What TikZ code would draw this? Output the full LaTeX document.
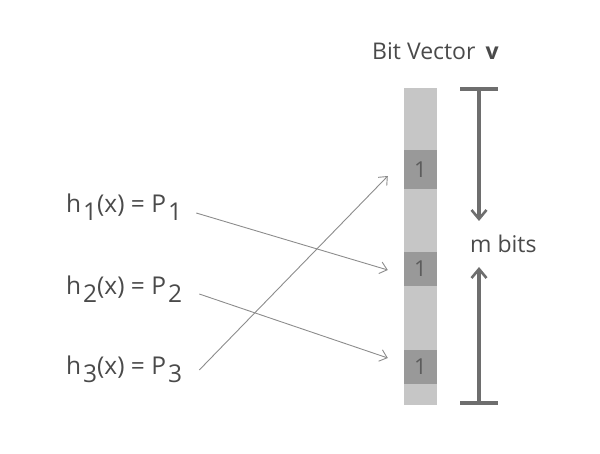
\documentclass[tikz,border=0pt]{standalone}
\usepackage{fontspec}
\setmainfont{Open Sans}
\usepackage{tikz}
\usetikzlibrary{positioning,arrows.meta,calc}
\definecolor{bvtext}{HTML}{4A4A4A}
\definecolor{bvline}{HTML}{8C8C8C}
\definecolor{bvlight}{HTML}{C6C6C6}
\definecolor{bvdark}{HTML}{999999}
\definecolor{bvdim}{HTML}{6E6E6E}
\newcommand{\lowsub}[1]{\hspace{2pt}\raisebox{-8pt}{#1}}
\tikzset{
    lbl/.style={inner sep=0pt,text=bvtext,font=\fontsize{23}{28}\selectfont},
    hashlbl/.style={lbl,font=\fontsize{24.5}{29}\selectfont},
    vecbar/.style={fill=bvlight,minimum width=33pt,minimum height=317pt,inner sep=0pt},
    cellone/.style={fill=bvdark,minimum width=33pt,inner sep=0pt,text=bvtext!90,font=\fontsize{22}{26}\selectfont},
    hasharrow/.style={draw=bvline,line width=0.9pt,-{Straight Barb[length=7pt,width=12pt,line width=0.9pt]}},
    dimline/.style={draw=bvdim,line width=3.3pt},
    dimarrow/.style={dimline,-{Straight Barb[length=9pt,width=15pt,line width=2.6pt]}},
}

\begin{document}
\begin{tikzpicture}[x=1pt,y=-1pt]
    \useasboundingbox (0,0) rectangle (600,454);

    % bit vector
    \node[lbl,anchor=base west] (title) at (372,60) {Bit Vector\hspace{10pt}\textbf{v}};
    \node[vecbar] (vec) at (420.5,246.5) {};
    \node[cellone,minimum height=39pt] (c1) at (420.5,169.5) {1};
    \node[cellone,minimum height=34pt] (c2) at (420.5,269) {1};
    \node[cellone,minimum height=34pt] (c3) at (420.5,367) {1};

    % hash functions
    \node[hashlbl,anchor=base west] (h1) at (66,213) {h\lowsub{1}(x) = P\lowsub{1}};
    \node[hashlbl,anchor=base west] (h2) at (66,295) {h\lowsub{2}(x) = P\lowsub{2}};
    \node[hashlbl,anchor=base west] (h3) at (66,375) {h\lowsub{3}(x) = P\lowsub{3}};

    \draw[hasharrow] ($(h1.base east)+(14,0)$) -- ($(c2.west)+(-16,1)$);
    \draw[hasharrow] ($(h2.base east)+(17,-1)$) -- ($(c3.west)+(-16,-9)$);
    \draw[hasharrow] ($(h3.base east)+(17,-5)$) -- ($(c1.west)+(-16,6.5)$);

    % size of the vector
    \node[lbl,anchor=base west] (mbits) at (470,253) {m bits};
    \coordinate (dtop) at (479,89);
    \coordinate (dbot) at (479,403);
    \coordinate (tipdown) at (479,221);
    \coordinate (tipup) at (479,267);
    \draw[dimline] ([xshift=-19pt]dtop) -- ([xshift=19pt]dtop);
    \draw[dimline] ([xshift=-19pt]dbot) -- ([xshift=19pt]dbot);
    \draw[dimarrow] (dtop) -- (tipdown);
    \draw[dimarrow] (dbot) -- (tipup);
\end{tikzpicture}
\end{document}
